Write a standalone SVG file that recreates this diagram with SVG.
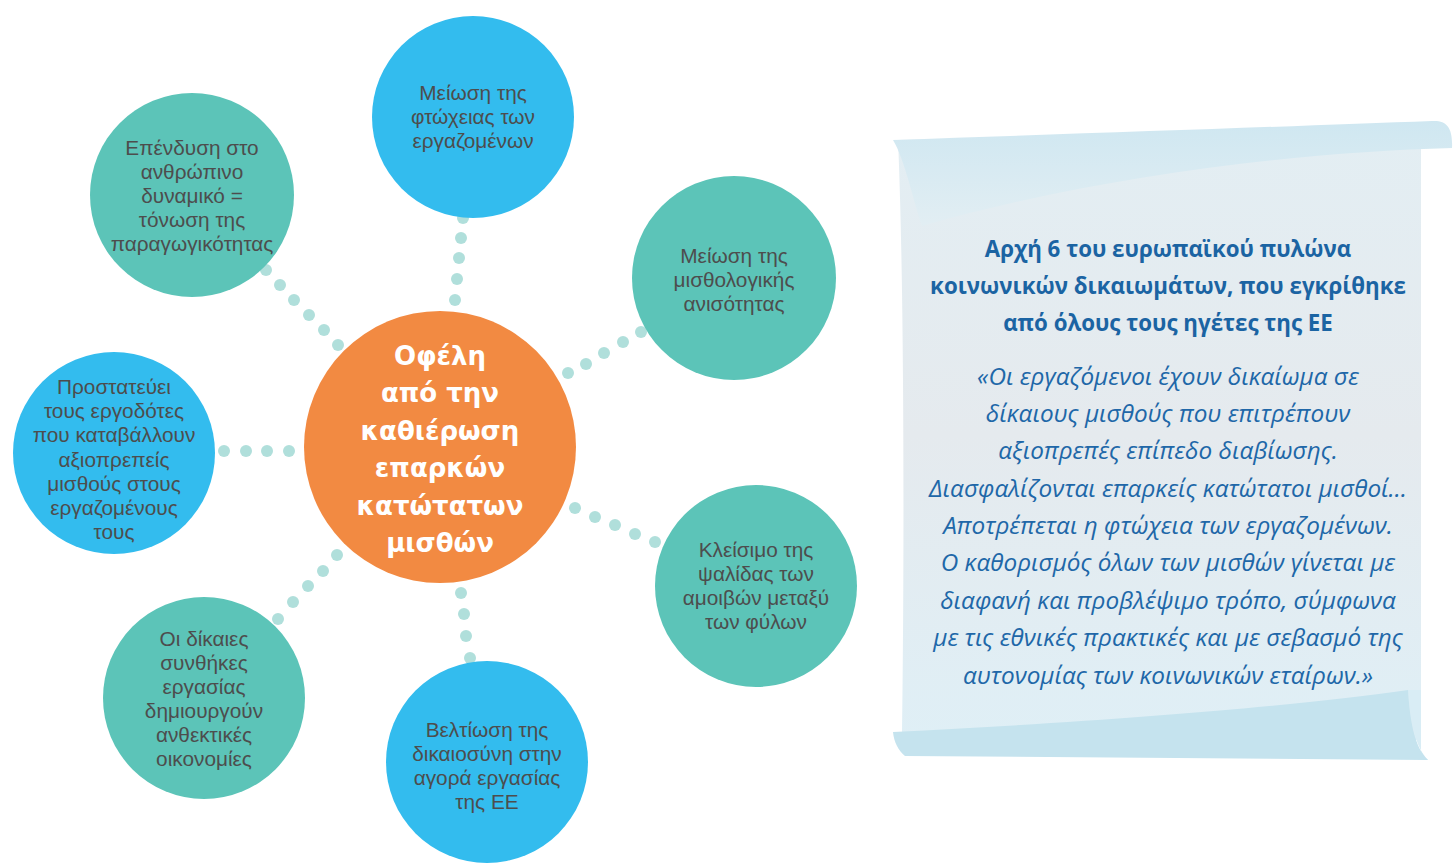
<svg xmlns="http://www.w3.org/2000/svg" width="1456" height="863" viewBox="0 0 1456 863">
<defs>
<linearGradient id="bodyG" x1="0" y1="0" x2="0" y2="1">
<stop offset="0" stop-color="#e3eef3"/>
<stop offset="0.5" stop-color="#e5eaee"/>
<stop offset="1" stop-color="#dfeff6"/>
</linearGradient>
<linearGradient id="topCurl" x1="0" y1="0" x2="0" y2="1">
<stop offset="0" stop-color="#cfe7f1"/>
<stop offset="1" stop-color="#e2eef3"/>
</linearGradient>
<style>
.blue{fill:#33bcee}
.teal{fill:#5cc4b8}
.dot{fill:#b0dfdb}
.lbl{font-family:"Liberation Sans","Open Sans",sans-serif;font-size:20.8px;fill:#4d4d4d;text-anchor:middle}
.ctr{font-family:"DejaVu Sans","Liberation Sans",sans-serif;font-weight:bold;font-size:26px;fill:#ffffff;text-anchor:middle}
.ttl{font-family:"Open Sans","Liberation Sans",sans-serif;font-weight:bold;font-size:22.3px;fill:#1b64a3;text-anchor:middle}
.qt{font-family:"Open Sans","Liberation Sans",sans-serif;font-style:italic;font-size:24.3px;fill:#2067a8;text-anchor:middle}
</style>
</defs>
<rect width="1456" height="863" fill="#ffffff"/>

<g id="connectors">
<circle class="dot" cx="463" cy="218" r="6"/><circle class="dot" cx="461" cy="238" r="6"/><circle class="dot" cx="459" cy="258" r="6"/><circle class="dot" cx="457" cy="279" r="6"/><circle class="dot" cx="455" cy="300" r="6"/>
<circle class="dot" cx="266" cy="270" r="6"/><circle class="dot" cx="280" cy="285" r="6"/><circle class="dot" cx="294" cy="300" r="6"/><circle class="dot" cx="309" cy="315" r="6"/><circle class="dot" cx="324" cy="330" r="6"/><circle class="dot" cx="338" cy="345" r="6"/>
<circle class="dot" cx="224" cy="451" r="6"/><circle class="dot" cx="246" cy="451" r="6"/><circle class="dot" cx="267" cy="451" r="6"/><circle class="dot" cx="289" cy="451" r="6"/>
<circle class="dot" cx="568" cy="373" r="6"/><circle class="dot" cx="586" cy="364" r="6"/><circle class="dot" cx="604" cy="353" r="6"/><circle class="dot" cx="623" cy="342" r="6"/><circle class="dot" cx="641" cy="332" r="6"/>
<circle class="dot" cx="575" cy="508" r="6"/><circle class="dot" cx="595" cy="517" r="6"/><circle class="dot" cx="615" cy="525" r="6"/><circle class="dot" cx="635" cy="534" r="6"/><circle class="dot" cx="655" cy="542" r="6"/>
<circle class="dot" cx="337" cy="555" r="6"/><circle class="dot" cx="323" cy="571" r="6"/><circle class="dot" cx="308" cy="586" r="6"/><circle class="dot" cx="293" cy="602" r="6"/><circle class="dot" cx="278" cy="619" r="6"/>
<circle class="dot" cx="461" cy="593" r="6"/><circle class="dot" cx="464" cy="614" r="6"/><circle class="dot" cx="466" cy="636" r="6"/><circle class="dot" cx="470" cy="658" r="6"/>
</g>

<g id="center">
<circle cx="440" cy="447" r="136" fill="#f28a42"/>
<text class="ctr" x="440" y="365">Οφέλη</text>
<text class="ctr" x="440" y="402">από την</text>
<text class="ctr" x="440" y="440">καθιέρωση</text>
<text class="ctr" x="440" y="477">επαρκών</text>
<text class="ctr" x="440" y="515">κατώτατων</text>
<text class="ctr" x="440" y="552">μισθών</text>
</g>

<g id="n-top">
<circle class="blue" cx="473" cy="117" r="101"/>
<text class="lbl" x="473" y="100">Μείωση της</text>
<text class="lbl" x="473" y="124">φτώχειας των</text>
<text class="lbl" x="473" y="148">εργαζομένων</text>
</g>

<g id="n-topleft">
<circle class="teal" cx="192" cy="195" r="102"/>
<text class="lbl" x="192" y="155">Επένδυση στο</text>
<text class="lbl" x="192" y="179">ανθρώπινο</text>
<text class="lbl" x="192" y="203">δυναμικό =</text>
<text class="lbl" x="192" y="227">τόνωση της</text>
<text class="lbl" x="192" y="251">παραγωγικότητας</text>
</g>

<g id="n-topright">
<circle class="teal" cx="734" cy="278" r="102"/>
<text class="lbl" x="734" y="263">Μείωση της</text>
<text class="lbl" x="734" y="287">μισθολογικής</text>
<text class="lbl" x="734" y="311">ανισότητας</text>
</g>

<g id="n-left">
<circle class="blue" cx="114" cy="453" r="101"/>
<text class="lbl" x="114" y="394">Προστατεύει</text>
<text class="lbl" x="114" y="418">τους εργοδότες</text>
<text class="lbl" x="114" y="442">που καταβάλλουν</text>
<text class="lbl" x="114" y="467">αξιοπρεπείς</text>
<text class="lbl" x="114" y="491">μισθούς στους</text>
<text class="lbl" x="114" y="515">εργαζομένους</text>
<text class="lbl" x="114" y="539">τους</text>
</g>

<g id="n-right">
<circle class="teal" cx="756" cy="586" r="101"/>
<text class="lbl" x="756" y="557">Κλείσιμο της</text>
<text class="lbl" x="756" y="581">ψαλίδας των</text>
<text class="lbl" x="756" y="605">αμοιβών μεταξύ</text>
<text class="lbl" x="756" y="629">των φύλων</text>
</g>

<g id="n-bottomleft">
<circle class="teal" cx="204" cy="698" r="101"/>
<text class="lbl" x="204" y="646">Οι δίκαιες</text>
<text class="lbl" x="204" y="670">συνθήκες</text>
<text class="lbl" x="204" y="694">εργασίας</text>
<text class="lbl" x="204" y="718">δημιουργούν</text>
<text class="lbl" x="204" y="742">ανθεκτικές</text>
<text class="lbl" x="204" y="766">οικονομίες</text>
</g>

<g id="n-bottom">
<circle class="blue" cx="487" cy="762" r="101"/>
<text class="lbl" x="487" y="737">Βελτίωση της</text>
<text class="lbl" x="487" y="761">δικαιοσύνη στην</text>
<text class="lbl" x="487" y="785">αγορά εργασίας</text>
<text class="lbl" x="487" y="809">της ΕΕ</text>
</g>

<g id="scroll">
<path d="M898,140 L1421,130 L1421,740 L902,740 C904,600 905,300 898,140 Z" fill="url(#bodyG)"/>
<path d="M893,140 C1100,133 1300,126 1432,121 C1447,120 1453,128 1452,148 C1300,152 1100,175 922,226 C913,200 905,160 893,140 Z" fill="url(#topCurl)"/>
<path d="M1408,690 C1410,722 1416,748 1428,760 L1421,760 L1421,690 Z" fill="#d9edf5"/>
<path d="M893,732 C1100,722 1300,706 1408,690 C1410,722 1415,748 1428,760 L905,756 C898,750 894,742 893,732 Z" fill="#c5e3ee"/>
<text class="ttl" x="1168" y="257">Αρχή 6 του ευρωπαϊκού πυλώνα</text>
<text class="ttl" x="1168" y="294">κοινωνικών δικαιωμάτων, που εγκρίθηκε</text>
<text class="ttl" x="1168" y="331">από όλους τους ηγέτες της ΕΕ</text>
<text class="qt" x="1168" y="385">«Οι εργαζόμενοι έχουν δικαίωμα σε</text>
<text class="qt" x="1168" y="422">δίκαιους μισθούς που επιτρέπουν</text>
<text class="qt" x="1168" y="459">αξιοπρεπές επίπεδο διαβίωσης.</text>
<text class="qt" x="1168" y="497">Διασφαλίζονται επαρκείς κατώτατοι μισθοί…</text>
<text class="qt" x="1168" y="534">Αποτρέπεται η φτώχεια των εργαζομένων.</text>
<text class="qt" x="1168" y="571">Ο καθορισμός όλων των μισθών γίνεται με</text>
<text class="qt" x="1168" y="609">διαφανή και προβλέψιμο τρόπο, σύμφωνα</text>
<text class="qt" x="1168" y="646">με τις εθνικές πρακτικές και με σεβασμό της</text>
<text class="qt" x="1168" y="684">αυτονομίας των κοινωνικών εταίρων.»</text>
</g>
</svg>
